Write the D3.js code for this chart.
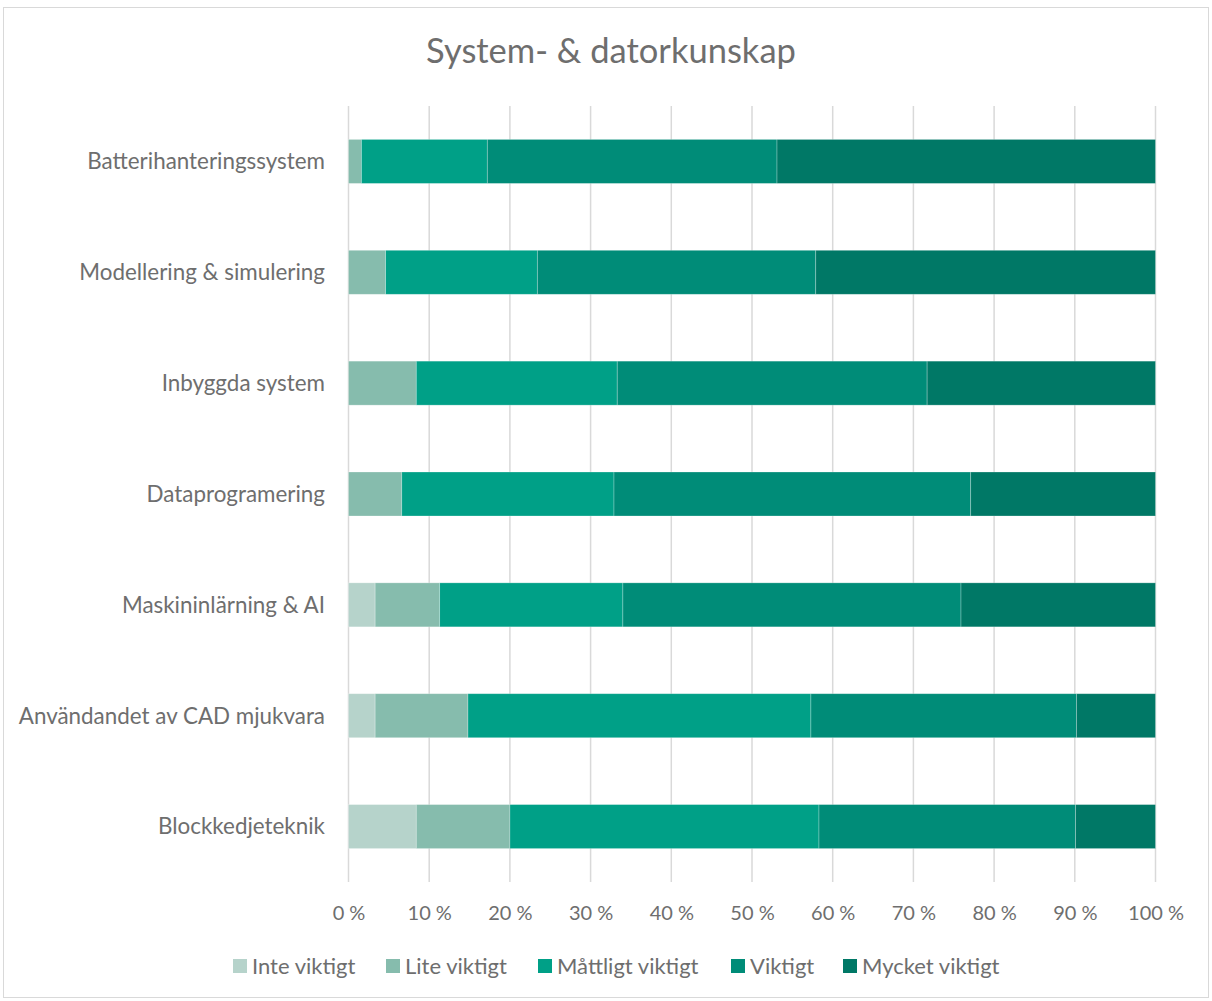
<!DOCTYPE html>
<html>
<head>
<meta charset="utf-8">
<script src="https://cdn.jsdelivr.net/npm/d3@7"></script>
<style>
  html, body { margin: 0; padding: 0; background: #ffffff; }
  svg { display: block; }
  text { font-family: Lato, "Open Sans", sans-serif; fill: #6e6e6e; }
</style>
</head>
<body>
<svg id="chart" width="1212" height="1001"></svg>
<script>
// ---- data ----
const title = "System- & datorkunskap";
const categories = [
  "Batterihanteringssystem",
  "Modellering & simulering",
  "Inbyggda system",
  "Dataprogramering",
  "Maskininlärning & AI",
  "Användandet av CAD mjukvara",
  "Blockkedjeteknik"
];
const seriesNames = ["Inte viktigt", "Lite viktigt", "Måttligt viktigt", "Viktigt", "Mycket viktigt"];
const inteViktigt     = [0.0, 0.0, 0.0, 0.0, 3.3, 3.3, 8.4];
const liteViktigt     = [1.6, 4.6, 8.4, 6.6, 8.0, 11.5, 11.6];
const mattligtViktigt = [15.6, 18.8, 24.9, 26.3, 22.7, 42.5, 38.3];
const viktigt         = [35.9, 34.5, 38.4, 44.2, 41.9, 32.9, 31.8];
const mycketViktigt   = [46.9, 42.1, 28.3, 22.9, 24.1, 9.8, 9.9];
const seriesColors = ["#b6d3cb", "#86bcad", "#00a087", "#008c78", "#007866"];
const tickValues = [0, 10, 20, 30, 40, 50, 60, 70, 80, 90, 100];
const tickLabels = ["0 %", "10 %", "20 %", "30 %", "40 %", "50 %", "60 %", "70 %", "80 %", "90 %", "100 %"];

// ---- build table ----
const seriesValues = [inteViktigt, liteViktigt, mattligtViktigt, viktigt, mycketViktigt];
const rows = categories.map((c, i) => {
  const r = { category: c };
  seriesNames.forEach((s, j) => r[s] = seriesValues[j][i]);
  return r;
});
const stacked = d3.stack().keys(seriesNames)(rows);

const svg = d3.select("#chart");

// outer border
svg.append("rect")
  .attr("x", 3.5).attr("y", 7.5).attr("width", 1205).attr("height", 990)
  .attr("fill", "none").attr("stroke", "#d9d9d9").attr("stroke-width", 1);

const plot = { left: 348.5, right: 1155.5, top: 106, bottom: 882 };

const x = d3.scaleLinear().domain([0, 100]).range([plot.left, plot.right]);
const y = d3.scaleBand().domain(categories).range([plot.top, plot.bottom]).paddingInner(0.603).paddingOuter(0.3015);

// title
svg.append("text")
  .attr("x", 611).attr("y", 63)
  .attr("text-anchor", "middle")
  .style("font-size", "34.5px")
  .text(title);

// gridlines
svg.append("g").selectAll("line")
  .data(tickValues)
  .join("line")
  .attr("x1", d => x(d)).attr("x2", d => x(d))
  .attr("y1", plot.top).attr("y2", plot.bottom)
  .attr("stroke", "#d9d9d9").attr("stroke-width", 1.5);

// bars
svg.append("g").selectAll("g")
  .data(stacked)
  .join("g")
  .attr("fill", (d, i) => seriesColors[i])
  .selectAll("rect")
  .data(d => d)
  .join("rect")
  .attr("x", d => x(d[0]))
  .attr("width", d => Math.max(0, x(d[1]) - x(d[0])))
  .attr("y", d => y(d.data.category))
  .attr("height", y.bandwidth())
  .attr("stroke", "#ffffff").attr("stroke-opacity", 0.35).attr("stroke-width", 0.75);

// x axis labels
const xAxis = d3.axisBottom(x).tickValues(tickValues).tickFormat((d, i) => tickLabels[i]).tickSize(0).tickPadding(0);
const gx = svg.append("g").attr("transform", `translate(0, 920)`).call(xAxis);
gx.select(".domain").remove();
gx.selectAll("text").attr("dy", 0).style("font-size", "20px").attr("fill", "#6e6e6e");

// y axis labels
const yAxis = d3.axisLeft(y).tickSize(0).tickPadding(0);
const gy = svg.append("g").attr("transform", `translate(325, 0)`).call(yAxis);
gy.select(".domain").remove();
gy.selectAll("text").attr("dy", "0.35em").style("font-size", "22.4px").attr("fill", "#6e6e6e");

// legend
const legendX = [233, 386, 538, 731, 843];
const lg = svg.append("g").selectAll("g")
  .data(seriesNames)
  .join("g")
  .attr("transform", (d, i) => `translate(${legendX[i]}, 959)`);
lg.append("rect").attr("width", 14).attr("height", 14).attr("fill", (d, i) => seriesColors[i]);
lg.append("text").attr("x", 19).attr("y", 7).attr("dy", "0.35em").style("font-size", "22px").text(d => d);
</script>
</body>
</html>
